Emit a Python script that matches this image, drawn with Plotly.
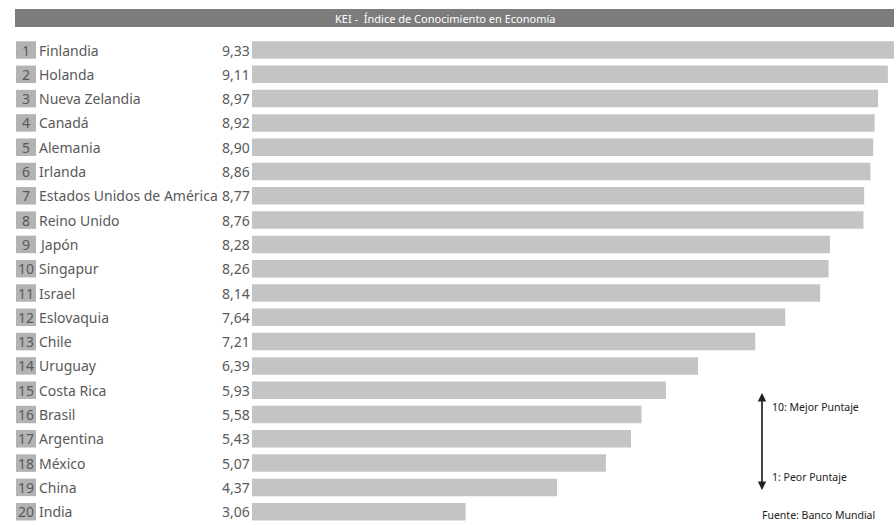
import plotly.graph_objects as go

# Knowledge Economy Index ranking
rank = list(range(1, 21))
countries = ["Finlandia", "Holanda", "Nueva Zelandia", "Canadá", "Alemania", "Irlanda",
             "Estados Unidos de América", "Reino Unido", "Japón", "Singapur", "Israel",
             "Eslovaquia", "Chile", "Uruguay", "Costa Rica", "Brasil", "Argentina",
             "México", "China", "India"]
scores = [9.33, 9.11, 8.97, 8.92, 8.90, 8.86, 8.77, 8.76, 8.28, 8.26, 8.14,
          7.64, 7.21, 6.39, 5.93, 5.58, 5.43, 5.07, 4.37, 3.06]

W, H = 894, 523
FONT = "Noto Sans"
TXT = "#595959"

# horizontal scale: value 0 sits at x=252px, ~69.8 px per unit
x0_px, px_per = 252.0, 69.8
x_range = [-x0_px / px_per, (W - x0_px) / px_per]
# vertical scale: row 1 centred at y=50px, row pitch 24.3px
pitch, y1_px = 24.3, 50.0
y_range = [1 + (H - y1_px) / pitch, 1 - y1_px / pitch]

fig = go.Figure(go.Bar(
    x=scores, y=rank, orientation="h", base=0,
    marker=dict(color="#c4c4c4", line=dict(width=0)),
    width=0.72, hoverinfo="skip",
))


def px_x(p):
    return p / W


def px_y(p):
    return 1 - p / H


shapes = []
annotations = []

# title bar
shapes.append(dict(type="rect", xref="paper", yref="paper",
                   x0=px_x(15), x1=1, y0=px_y(27), y1=px_y(9),
                   fillcolor="#7c7c7c", line=dict(width=0), layer="below"))
annotations.append(dict(xref="paper", yref="paper", x=px_x(333), y=px_y(18),
                        xanchor="left", yanchor="middle", showarrow=False,
                        text="KEI -  Índice de Conocimiento en Economía",
                        font=dict(family=FONT, size=11, color="white")))

for r, c, s in zip(rank, countries, scores):
    shapes.append(dict(type="rect", xref="paper", yref="y",
                       x0=px_x(16), x1=px_x(36),
                       y0=r - 0.36, y1=r + 0.36,
                       fillcolor="#b3b3b3", line=dict(width=0), layer="below"))
    annotations.append(dict(xref="paper", yref="y", x=px_x(26 if r < 10 else 25.5), y=r,
                            xanchor="center", yanchor="middle", showarrow=False,
                            text=str(r), font=dict(family=FONT, size=14, color=TXT)))
    annotations.append(dict(xref="paper", yref="y", x=px_x(37), y=r,
                            xanchor="left", yanchor="middle", showarrow=False,
                            text=c, font=dict(family=FONT, size=14, color=TXT)))
    annotations.append(dict(xref="paper", yref="y", x=px_x(252), y=r,
                            xanchor="right", yanchor="middle", showarrow=False,
                            text=f"{s:.2f}".replace(".", ","),
                            font=dict(family=FONT, size=14, color=TXT)))

# scale legend: double-headed arrow
for tip, tail in ((393, 490), (490, 393)):
    annotations.append(dict(xref="paper", yref="paper", x=px_x(762), y=px_y(tip),
                            ax=0, ay=tail - tip, axref="pixel", ayref="pixel",
                            showarrow=True, arrowhead=2, arrowsize=1.4, arrowwidth=1.2,
                            arrowcolor="#222", text=""))
annotations.append(dict(xref="paper", yref="paper", x=px_x(770), y=px_y(407),
                        xanchor="left", yanchor="middle", showarrow=False,
                        text="10: Mejor Puntaje",
                        font=dict(family=FONT, size=10.5, color="#222")))
annotations.append(dict(xref="paper", yref="paper", x=px_x(770), y=px_y(477),
                        xanchor="left", yanchor="middle", showarrow=False,
                        text="1: Peor Puntaje",
                        font=dict(family=FONT, size=10.5, color="#222")))
annotations.append(dict(xref="paper", yref="paper", x=px_x(760), y=px_y(515),
                        xanchor="left", yanchor="middle", showarrow=False,
                        text="Fuente: Banco Mundial",
                        font=dict(family=FONT, size=10.5, color="#222")))

fig.update_layout(
    width=W, height=H,
    margin=dict(l=0, r=0, t=0, b=0),
    paper_bgcolor="white", plot_bgcolor="white",
    showlegend=False,
    xaxis=dict(range=x_range, visible=False, fixedrange=True),
    yaxis=dict(range=y_range, visible=False, fixedrange=True),
    shapes=shapes, annotations=annotations,
)

fig.write_html("out.html")
